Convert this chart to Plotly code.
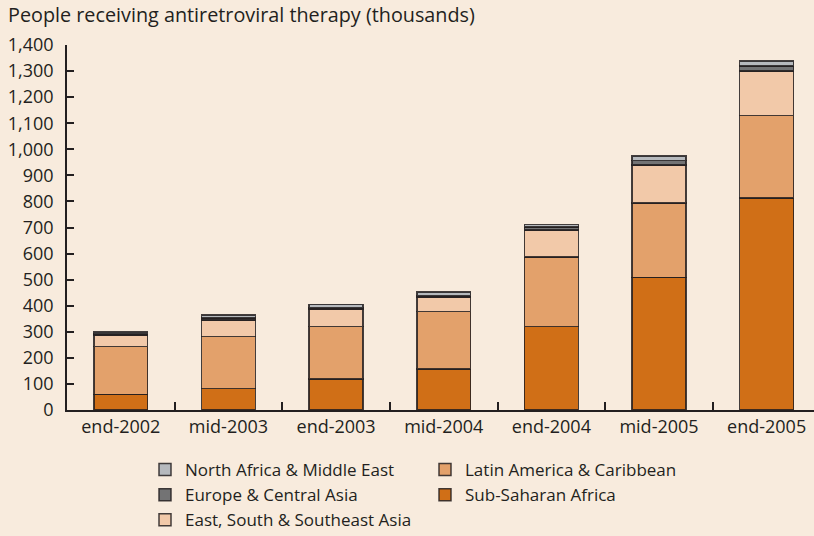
import plotly.graph_objects as go

categories = ["end-2002", "mid-2003", "end-2003", "mid-2004", "end-2004", "mid-2005", "end-2005"]
sub_saharan = [60, 82, 118, 157, 320, 509, 813]
latin_america = [183, 199, 202, 220, 266, 285, 316]
east_south_asia = [45, 64, 66, 55, 104, 145, 171]
europe_central = [4, 8, 5, 6, 12, 18, 20]
north_africa_me = [8, 12, 14, 14, 9, 18, 18]
y_ticks = list(range(0, 1401, 100))

series = [
    ("Sub-Saharan Africa", sub_saharan, "#D06F17", 4),
    ("Latin America & Caribbean", latin_america, "#E3A16B", 2),
    ("East, South & Southeast Asia", east_south_asia, "#F2C9A9", 5),
    ("Europe & Central Asia", europe_central, "#737374", 3),
    ("North Africa & Middle East", north_africa_me, "#B6B9BD", 1),
]

text_color = "#231F20"
font_family = "Open Sans, Noto Sans, sans-serif"

fig = go.Figure()
for name, vals, color, rank in series:
    fig.add_trace(go.Bar(
        x=categories, y=vals, name=name, legendrank=rank,
        width=0.5,
        marker=dict(color=color, line=dict(color="rgba(35,31,32,0.85)", width=1.5)),
    ))

fig.update_layout(
    barmode="stack",
    width=814, height=536,
    paper_bgcolor="#F8EBDD", plot_bgcolor="#F8EBDD",
    margin=dict(l=66.5, r=0, t=45, b=126),
    font=dict(family=font_family, size=17, color=text_color),
    title=dict(text="People receiving antiretroviral therapy (thousands)",
               x=8/814, xanchor="left", xref="container",
               y=1 - 15/536, yanchor="middle", yref="container",
               font=dict(size=19.8, color=text_color)),
    showlegend=True,
    legend=dict(orientation="h", x=145/814, xref="container", xanchor="left",
                y=1 - 452/536, yanchor="top", yref="container",
                traceorder="normal",
                entrywidth=235, font=dict(size=17, color=text_color),
                bgcolor="rgba(0,0,0,0)", itemwidth=30, tracegroupgap=0),
    xaxis=dict(range=[-0.5, 6.44], showline=True, linecolor=text_color, linewidth=1.5,
               ticks="inside", tickson="boundaries", ticklen=8, tickwidth=1.5,
               tickcolor=text_color, showgrid=False, zeroline=False,
               tickfont=dict(size=18, color=text_color), fixedrange=True),
    yaxis=dict(range=[0, 1400], tickvals=y_ticks, tickformat=",",
               showline=True, linecolor=text_color, linewidth=1.5,
               ticks="inside", ticklen=7, tickwidth=1.5, tickcolor=text_color,
               showgrid=False, zeroline=False, ticklabelstandoff=8,
               tickfont=dict(size=18, color=text_color)),
)

fig.write_html("out.html",
               config={"displayModeBar": False},
               post_script="document.body.style.margin='0';document.body.style.padding='0';"
                           "document.body.style.overflow='hidden';")
